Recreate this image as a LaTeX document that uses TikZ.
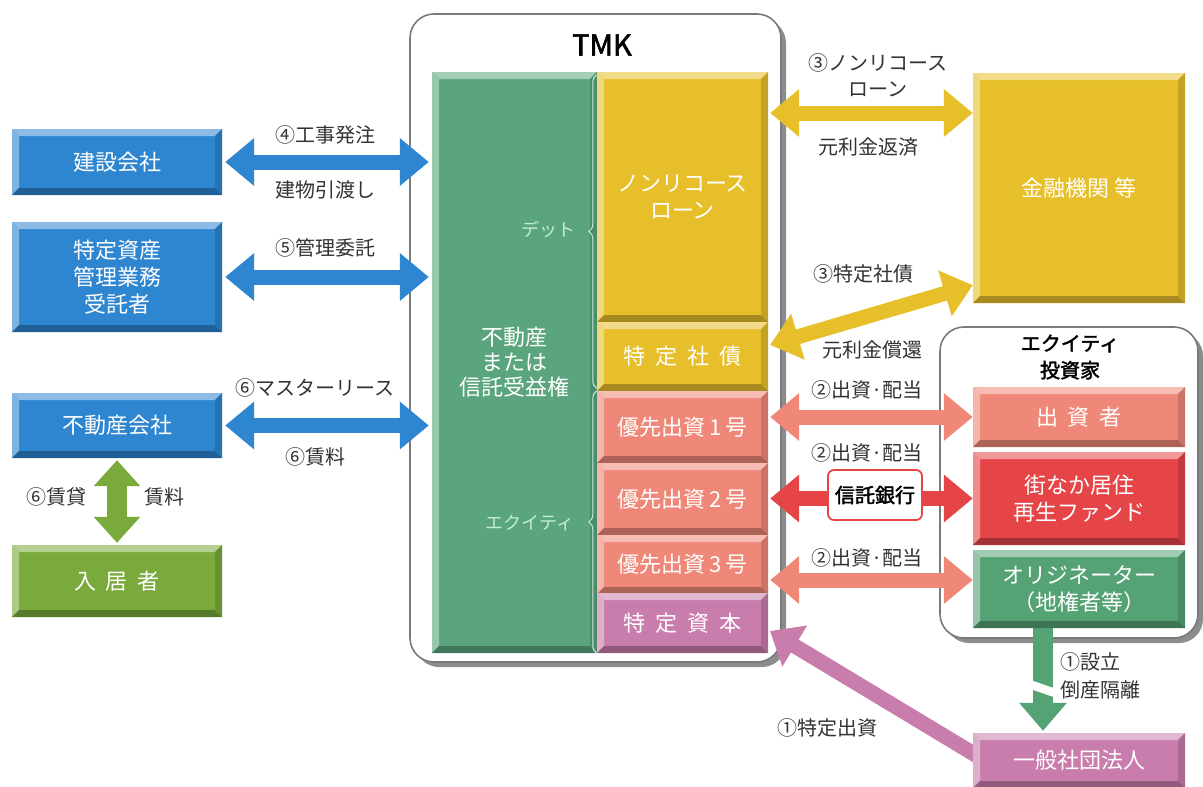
\documentclass[tikz,border=0pt]{standalone}
\usepackage{fontspec}
\setmainfont{Noto Sans CJK JP}[AutoFakeBold=2]
\usetikzlibrary{arrows.meta,decorations.pathreplacing,shadows}
\pgfdeclarelayer{frames}
\pgfdeclarelayer{arrows}
\pgfsetlayers{frames,arrows,main}
\definecolor{cblue}{HTML}{2E86D0}
\definecolor{cgrn}{HTML}{7AAA3C}
\definecolor{ctmk}{HTML}{5AA57D}
\definecolor{cyel}{HTML}{E7BF2B}
\definecolor{csal}{HTML}{EF8878}
\definecolor{cpink}{HTML}{C97DAC}
\definecolor{cred}{HTML}{E64548}
\definecolor{corig}{HTML}{55A275}
\definecolor{clab}{HTML}{333333}
\definecolor{cbrace}{HTML}{C4EEDA}
\definecolor{cframe}{HTML}{7A7A7A}
\newcommand\boxfont{\fontsize{22}{27}\selectfont}
\newcommand\labfont{\fontsize{20}{24}\selectfont}
\newcommand\gapsp{\hspace{0.45em}}
\tikzset{
  bev/.style={fill=#1, draw=none, inner sep=0pt, text=white, font=\boxfont, align=center,
    path picture={
      \coordinate (Bsw) at (path picture bounding box.south west);
      \coordinate (Bne) at (path picture bounding box.north east);
      \coordinate (Bnw) at (Bsw |- Bne);
      \coordinate (Bse) at (Bne |- Bsw);
      \fill[#1!55!white] (Bnw) -- (Bne) -- ([xshift=-7pt,yshift=-7pt]Bne) -- ([xshift=7pt,yshift=-7pt]Bnw) -- cycle;
      \fill[#1!62!white] (Bnw) -- ([xshift=7pt,yshift=-7pt]Bnw) -- ([xshift=7pt,yshift=7pt]Bsw) -- (Bsw) -- cycle;
      \fill[#1!72!black] (Bsw) -- (Bse) -- ([xshift=-7pt,yshift=7pt]Bse) -- ([xshift=7pt,yshift=7pt]Bsw) -- cycle;
      \fill[#1!85!black] (Bse) -- (Bne) -- ([xshift=-7pt,yshift=-7pt]Bne) -- ([xshift=-7pt,yshift=7pt]Bse) -- cycle;
    }},
  frame/.style={draw=cframe, line width=1.6pt, fill=white, rounded corners=24pt,
    drop shadow={shadow xshift=5pt, shadow yshift=-5pt, fill=black!45, opacity=1}},
  lab/.style={text=clab, font=\labfont, inner sep=0pt, align=center},
  twoway/.style={line width=15pt, draw=#1, {Triangle[width=46pt,length=29pt]}-{Triangle[width=46pt,length=29pt]}},
  oneway/.style={line width=15pt, draw=#1, -{Triangle[width=46pt,length=29pt]}},
  vway/.style={line width=20pt, draw=#1, {Triangle[width=45pt,length=26pt]}-{Triangle[width=45pt,length=26pt]}},
  downway/.style={line width=20pt, draw=#1, -{Triangle[width=46pt,length=28pt]}},
  brc/.style={draw=cbrace, line width=1pt, decorate, decoration={brace, amplitude=8pt}},
}
\begin{document}
\begin{tikzpicture}[x=1pt,y=-1pt]
\useasboundingbox (0,0) rectangle (1203,787);

% frames
\begin{pgfonlayer}{frames}
\fill[white] (0,0) rectangle (1203,787);
\node[frame, minimum width=371, minimum height=648] (tmk) at (595.5,338) {};
\node[frame, minimum width=258, minimum height=311] (eq) at (1069,482.5) {};
\end{pgfonlayer}
\node[font=\fontsize{29}{32}\selectfont\bfseries, inner sep=0pt] (tmktitle) at (602,45) {TMK};
\node[font=\fontsize{20}{27}\selectfont\bfseries, align=center, inner sep=0pt] (eqtitle) at (1070,357) {エクイティ\\投資家};

% left boxes
\node[bev=cblue, minimum width=210, minimum height=66] (kensetsu) at (117,162) {建設会社};
\node[bev=cblue, minimum width=210, minimum height=110] (tokutei) at (117,277) {特定資産\\管理業務\\受託者};
\node[bev=cblue, minimum width=210, minimum height=65] (fudosan) at (117,425.5) {不動産会社};
\node[bev=cgrn, minimum width=210, minimum height=72] (nyukyo) at (117,581) {入\gapsp 居\gapsp 者};

% TMK inner boxes
\node[bev=ctmk, minimum width=165, minimum height=581, font=\fontsize{22}{25}\selectfont] (asset) at (514.5,362.5) {不動産\\または\\信託受益権};
\node[bev=cyel, minimum width=171, minimum height=250] (nrl) at (682.5,197) {ノンリコース\\ローン};
\node[bev=cyel, minimum width=171, minimum height=69] (shasai) at (682.5,356.5) {特\gapsp 定\gapsp 社\gapsp 債};
\node[bev=csal, minimum width=171, minimum height=72] (yu1) at (682.5,427) {優先出資\,1\,号};
\node[bev=csal, minimum width=171, minimum height=72] (yu2) at (682.5,499) {優先出資\,2\,号};
\node[bev=csal, minimum width=171, minimum height=59] (yu3) at (682.5,564.5) {優先出資\,3\,号};
\node[bev=cpink, minimum width=171, minimum height=60] (shihon) at (682.5,623) {特\gapsp 定\gapsp 資\gapsp 本};

% braces
\draw[brc] ([yshift=3pt]shasai.south west) -- ([yshift=-3pt]nrl.north west);
\draw[brc] (shihon.south west) -- (yu1.north west);
\node[text=cbrace, font=\fontsize{18}{20}\selectfont, inner sep=0pt] (debt) at (548,230) {デット};
\node[text=cbrace, font=\fontsize{18}{20}\selectfont, inner sep=0pt] (equity) at (530,523) {エクイティ};

% right boxes
\node[bev=cyel, minimum width=212, minimum height=230] (kinyu) at (1079,188) {金融機関 等};
\node[bev=csal, minimum width=212, minimum height=60] (shussi) at (1079,417) {出\gapsp 資\gapsp 者};
\node[bev=cred, minimum width=212, minimum height=93] (fund) at (1079,498.5) {街なか居住\\再生ファンド};
\node[bev=corig, minimum width=212, minimum height=78] (orig) at (1079,589) {オリジネーター\\（地権者等）};
\node[bev=cpink, minimum width=212, minimum height=55] (ippan) at (1079,760.5) {一般社団法人};

% arrows
\begin{pgfonlayer}{arrows}
\draw[twoway=cblue, shorten <=3pt, shorten >=3pt] (kensetsu.east) -- (kensetsu.east -| asset.west);
\draw[twoway=cblue, shorten <=3pt, shorten >=3pt] (tokutei.east) -- (tokutei.east -| asset.west);
\draw[twoway=cblue, shorten <=3pt, shorten >=3pt] (fudosan.east) -- (fudosan.east -| asset.west);
\draw[vway=cgrn, shorten <=2pt, shorten >=2pt] (fudosan.south) -- (nyukyo.north);
\coordinate (ya) at ([yshift=84pt]nrl.east);
\draw[twoway=cyel, shorten <=2pt] (ya) -- (ya -| kinyu.west);
\draw[twoway=cyel, shorten <=2pt] ([yshift=11pt]shasai.east) -- ([yshift=18pt]kinyu.south west);
\draw[twoway=csal, shorten <=2pt] (shussi.west -| yu1.east) -- (shussi.west);
\draw[twoway=cred, shorten <=2pt] (fund.west -| yu2.east) -- (fund.west);
\coordinate (oa) at ([yshift=9pt]orig.west);
\draw[twoway=csal, shorten <=2pt] (oa -| yu3.east) -- (oa);
\draw[oneway=cpink, shorten >=2pt] ([xshift=12pt]ippan.west) -- ([yshift=-7pt]shihon.east);
\coordinate (gd) at ([xshift=-36pt]ippan.north);
\draw[downway=corig, shorten >=2pt] (gd |- orig.south) -- (gd);
\end{pgfonlayer}
% wavy break on the founding arrow
\path (gd |- eq.south) ++(0,50) coordinate (wv);
\fill[white] ([shift={(-26pt,6pt)}]wv)
  .. controls ([shift={(-10pt,16pt)}]wv) and ([shift={(8pt,-6pt)}]wv) .. ([shift={(26pt,2pt)}]wv)
  -- ([shift={(26pt,-7pt)}]wv)
  .. controls ([shift={(8pt,-15pt)}]wv) and ([shift={(-10pt,7pt)}]wv) .. ([shift={(-26pt,-3pt)}]wv) -- cycle;

\node[draw=cred, line width=1.8pt, rounded corners=6pt, fill=white, minimum width=94, minimum height=50,
  font=\labfont\bfseries, inner sep=0pt] (bank) at (875,495) {信託銀行};

% labels
\node[lab] (l4a) at (325,135) {④工事発注};
\node[lab] (l4b) at (325,190) {建物引渡し};
\node[lab] (l5) at (325,248) {⑤管理委託};
\node[lab] (l6a) at (315,388) {⑥マスターリース};
\node[lab] (l6b) at (315,457) {⑥賃料};
\node[lab] (l6c) at (57,497) {⑥賃貸};
\node[lab] (l6d) at (164,497) {賃料};
\node[lab, font=\fontsize{20}{26}\selectfont] (l3a) at (878,75) {③ノンリコース\\ローン\hspace{1.5em}};
\node[lab] (l3b) at (868,147) {元利金返済};
\node[lab] (l3c) at (863,274) {③特定社債};
\node[lab] (l3d) at (872,350) {元利金償還};
\node[lab] (l2a) at (867,390) {②出資·配当};
\node[lab] (l2b) at (867,453) {②出資·配当};
\node[lab] (l2c) at (867,558) {②出資·配当};
\node[lab] (l1a) at (827,728) {①特定出資};
\node[lab, align=left, anchor=west, font=\fontsize{20}{28}\selectfont] (l1b) at (1060,676) {①設立\\倒産隔離};
\end{tikzpicture}
\end{document}
